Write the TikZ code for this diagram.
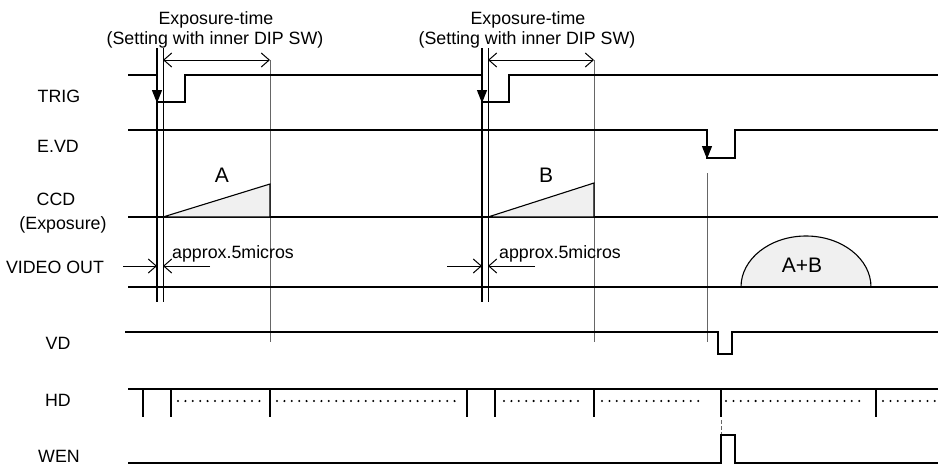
\documentclass[tikz,border=0pt]{standalone}
\usepackage{fontspec}
\setmainfont{Liberation Sans}
\usetikzlibrary{arrows.meta}
\begin{document}
\begin{tikzpicture}[x=1pt,y=-1pt,
  sig/.style={line width=1.1pt, line join=miter},
  trigline/.style={line width=2pt},
  thinv/.style={line width=1pt},
  guide/.style={black!60, line width=1pt},
  lbl/.style={font=\fontsize{17.8}{20}\selectfont, anchor=base, inner sep=0pt},
  big/.style={font=\fontsize{21}{24}\selectfont, anchor=base, inner sep=0pt},
  barb/.style={line width=1pt, -{Straight Barb[length=8pt,width=14pt,line width=1pt]}},
  dbar/.style={line width=1pt, {Straight Barb[length=8pt,width=14pt,line width=1pt]}-{Straight Barb[length=8pt,width=14pt,line width=1pt]}},
  tip/.style={-{Triangle[length=13pt,width=10pt]}, line width=1.1pt},
  shade/.style={fill=gray!12, draw=black, line width=1.1pt},
  dots/.style={line width=2.3pt, line cap=round, dash pattern=on 0pt off 7.4pt},
  tick/.style={line width=1.1pt}]
\useasboundingbox (0,0) rectangle (938,466);
\fill[white] (0,0) rectangle (938,466);

% left labels
\node[lbl] (lTRIG) at (59,102) {TRIG};
\node[lbl] (lEVD) at (58,152) {E.VD};
\node[lbl] (lCCD) at (56,205) {CCD};
\node[lbl] (lEXP) at (63,229) {(Exposure)};
\node[lbl] (lVID) at (55,273) {VIDEO OUT};
\node[lbl] (lVD) at (58,349) {VD};
\node[lbl] (lHD) at (58,406) {HD};
\node[lbl] (lWEN) at (59,462) {WEN};

% top labels
\node[lbl] (e1a) at (216,24) {Exposure-time};
\node[lbl] (e1b) at (215,44) {(Setting with inner DIP SW)};
\node[lbl] (e2a) at (528,24) {Exposure-time};
\node[lbl] (e2b) at (527,44) {(Setting with inner DIP SW)};

% guide lines
\draw[guide] (270,60) -- (270,342);
\draw[guide] (594,60) -- (594,342);
\draw[guide] (707,173) -- (707,342);
\draw[guide, dashed, dash pattern=on 4pt off 2pt] (721,420) -- (721,434);

% TRIG
\draw[sig] (128,75) -- (157,75) (157,102) -- (185,102) -- (185,75) -- (482,75)
           (482,102) -- (509,102) -- (509,75) -- (938,75);
% trigger verticals
\draw[trigline] (157,48) -- (157,302);
\draw[thinv] (163,48) -- (163,302);
\draw[trigline] (482,48) -- (482,302);
\draw[thinv] (488,48) -- (488,302);
\draw[tip] (157,90) -- (157,103);
\draw[tip] (482,90) -- (482,103);

% exposure arrows
\draw[dbar] (163,60) -- (270,60);
\draw[dbar] (488,60) -- (594,60);

% E.VD
\draw[sig] (128,130) -- (707,130) -- (707,158) -- (735,158) -- (735,130) -- (938,130);
\draw[tip] (707,145) -- (707,159);

% CCD
\draw[sig] (128,217) -- (938,217);
\draw[shade] (163,217) -- (270,184) -- (270,217) -- cycle;
\draw[shade] (488,217) -- (594,183) -- (594,217) -- cycle;
\node[big] (lA) at (222,182) {A};
\node[big] (lB) at (546,182) {B};

% approx dimension
\draw[barb] (123,266) -- (157,266);
\draw[barb] (210,266) -- (163,266);
\draw[barb] (447,266) -- (482,266);
\draw[barb] (535,266) -- (488,266);
\node[lbl, anchor=base west] (ap1) at (172,258) {approx.5micros};
\node[lbl, anchor=base west] (ap2) at (499,258) {approx.5micros};

% VIDEO OUT
\draw[shade] (741,287) arc[start angle=180, end angle=0, x radius=65pt, y radius=51pt];
\draw[sig] (128,287) -- (938,287);
\node[big] (lAB) at (802,272) {A+B};

% VD
\draw[sig] (125,332) -- (718,332) -- (718,354) -- (732,354) -- (732,332) -- (938,332);

% HD
\draw[sig] (128,389) -- (938,389);
\foreach \x in {143,171,270,467,495,594,721,876}
  \draw[tick] (\x,389) -- (\x,417);
\foreach \a/\b in {178/262,277/460,504/585,602/704,726/864,883/938}
  \draw[dots] (\a,401) -- (\b,401);

% WEN
\draw[sig] (128,463) -- (721,463) -- (721,435) -- (735,435) -- (735,463) -- (938,463);
\end{tikzpicture}
\end{document}
